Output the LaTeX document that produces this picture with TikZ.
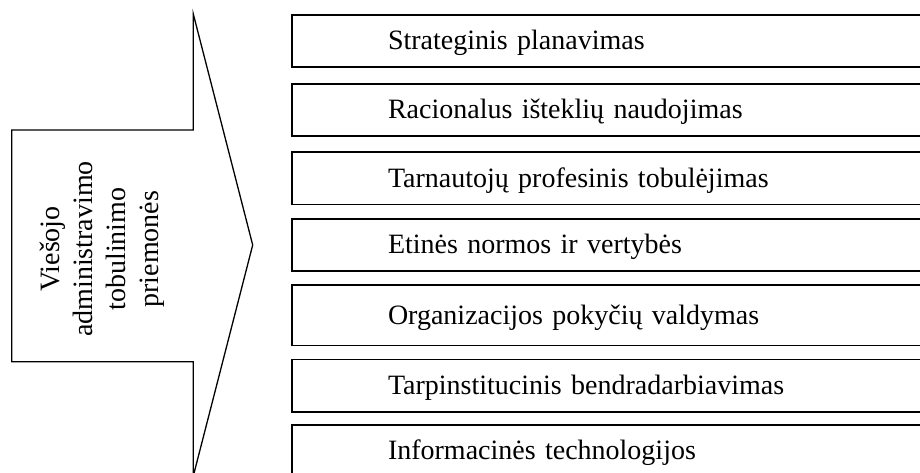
\documentclass[tikz,border=0pt]{standalone}
\usepackage{fontspec}
\setmainfont{Liberation Serif}
\begin{document}
\begin{tikzpicture}[x=1pt,y=-1pt,
  txt/.style={font=\fontsize{28}{33}\selectfont},
  box/.style={draw, line width=1.8pt, outer sep=0pt, anchor=west,
    minimum width=660pt, inner xsep=96pt, inner ysep=0pt, text width=468pt,
    align=left, text height=24pt, text depth=6.4pt, txt},
  arrowline/.style={draw, line width=1.3pt, line join=miter}
]
\useasboundingbox (0,0) rectangle (920,472);
\clip (0,0) rectangle (920,472);
\fill[white] (0,0) rectangle (920,472);
% big arrow
\coordinate (a1) at (11.7,130);
\coordinate (a2) at (193.3,130);
\coordinate (a3) at (193.3,14);
\coordinate (tip) at (252.7,245);
\coordinate (a5) at (193.3,476);
\coordinate (a6) at (193.3,361.7);
\coordinate (a7) at (11.7,361.7);
\path[arrowline] (a1) -- (a2) -- (a3) -- (tip) -- (a5) -- (a6) -- (a7) -- cycle;
\node[txt, rotate=90, align=center, inner sep=0pt] (lab) at (102,249)
  {Viešojo\\administravimo\\tobulinimo\\priemonės};
% boxes
\node[box, minimum height=52pt] (b1) at (292,40.7) {Strateginis planavimas};
\node[box, minimum height=52pt] (b2) at (292,110) {Racionalus išteklių naudojimas};
\node[box, minimum height=52.5pt] (b3) at (292,178.2) {Tarnautojų profesinis tobulėjimas};
\node[box, minimum height=52pt] (b4) at (292,245) {Etinės normos ir vertybės};
\node[box, minimum height=60.5pt] (b5) at (292,315.2) {Organizacijos pokyčių valdymas};
\node[box, minimum height=52.5pt] (b6) at (292,385.7) {Tarpinstitucinis bendradarbiavimas};
\node[box, minimum height=52pt] (b7) at (292,451) {Informacinės technologijos};
\end{tikzpicture}
\end{document}
